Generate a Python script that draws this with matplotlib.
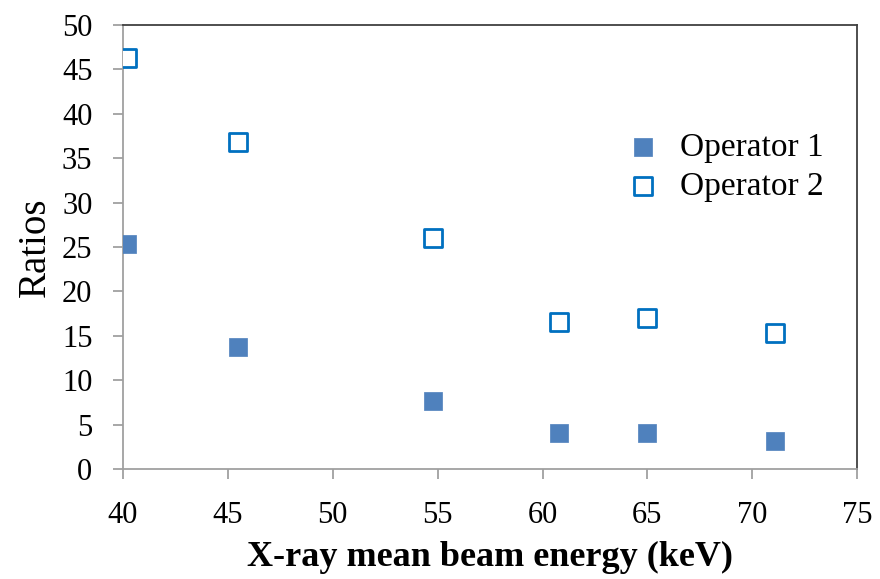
import matplotlib
matplotlib.use("Agg")
import matplotlib.pyplot as plt

# Values
energy = [40.2, 45.5, 54.8, 60.8, 65.0, 71.1]
operator1 = [25.3, 13.7, 7.7, 4.0, 4.0, 3.1]
operator2 = [46.3, 36.8, 26.0, 16.6, 17.0, 15.3]
x_ticks = [40, 45, 50, 55, 60, 65, 70, 75]
y_ticks = [0, 5, 10, 15, 20, 25, 30, 35, 40, 45, 50]

plt.rcParams['font.family'] = ['Liberation Serif', 'DejaVu Serif']

fig = plt.figure(figsize=(8.8, 5.79), dpi=100)
ax = fig.add_axes([0.1398, 0.19, 0.8342, 0.767])

ax.scatter(energy, operator1, marker='s', s=180, color='#4F81BD',
           edgecolors='#4F81BD', linewidths=0.5, label='Operator 1', zorder=3)
ax.scatter(energy, operator2, marker='s', s=150, facecolors='white',
           edgecolors='#0070C0', linewidths=2, label='Operator 2', zorder=3)

ax.set_xlim(40, 75)
ax.set_ylim(0, 50)
ax.set_xticks(x_ticks)
ax.set_yticks(y_ticks)

for side in ['left', 'bottom']:
    ax.spines[side].set_color('#A0A0A0')
    ax.spines[side].set_linewidth(1.3)
for side in ['top', 'right']:
    ax.spines[side].set_color('#404040')
    ax.spines[side].set_linewidth(1.3)

ax.tick_params(axis='both', direction='out', length=7, width=1.3,
               color='#A0A0A0', labelsize=22, labelcolor='black')
ax.tick_params(axis='x', pad=16)
ax.tick_params(axis='y', pad=15)

ax.set_xlabel('X-ray mean beam energy (keV)', fontsize=26,
              fontweight='bold', labelpad=8)
ax.set_ylabel('Ratios', fontsize=28, labelpad=6)

ax.legend(loc='upper right', bbox_to_anchor=(0.995, 0.825), frameon=False,
          fontsize=24, handlelength=1.2, handletextpad=0.5,
          labelspacing=0.25, borderaxespad=0.5)

plt.savefig('out.png', dpi=100)
